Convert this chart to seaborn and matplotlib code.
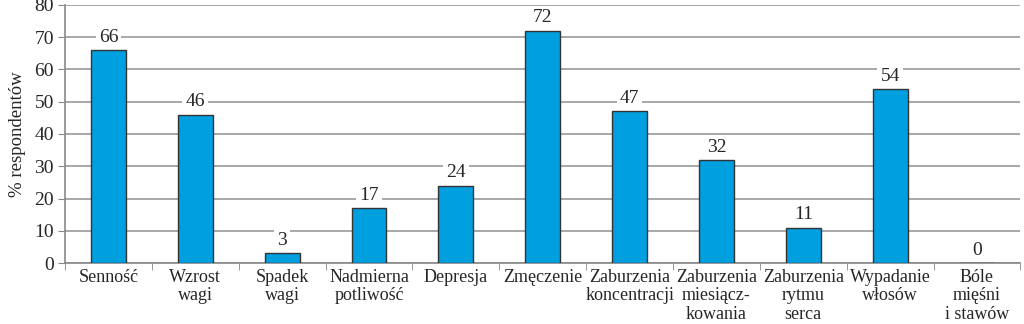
import matplotlib
matplotlib.use("Agg")
import matplotlib.pyplot as plt
import seaborn as sns
import pandas as pd
import numpy as np

categories = ["Senność", "Wzrost\nwagi", "Spadek\nwagi", "Nadmierna\npotliwość", "Depresja",
              "Zmęczenie", "Zaburzenia\nkoncentracji", "Zaburzenia\nmiesiącz-\nkowania",
              "Zaburzenia\nrytmu\nserca", "Wypadanie\nwłosów", "Bóle\nmięśni\ni stawów"]
values = [66, 46, 3, 17, 24, 72, 47, 32, 11, 54, 0]
yticks = [0, 10, 20, 30, 40, 50, 60, 70, 80]

sns.set_style("white")
plt.rcParams['font.family'] = ['Liberation Serif', 'DejaVu Serif']

df = pd.DataFrame({"cat": categories, "val": values})
fig = plt.figure(figsize=(10.24, 3.24), dpi=100)
ax = fig.add_axes([0.0635, 0.188, 0.933, 0.797])
sns.barplot(data=df, x="cat", y="val", color="#009fe0", width=0.4,
            edgecolor="#333333", linewidth=1.0, saturation=1, ax=ax, zorder=3)
ax.set_ylim(0, 80)
ax.set_xlim(-0.5, len(categories) - 0.5)
ax.set_yticks(yticks)
ax.set_yticklabels([str(t) for t in yticks], fontsize=14)
ax.yaxis.grid(True, color="#999999", linewidth=1.2, zorder=0)
ax.set_axisbelow(True)
ax.set_xlabel("")
ax.set_ylabel("% respondentów", fontsize=13.5, labelpad=6)
ax.set_xticks(range(len(categories)))
ax.set_xticklabels(categories, fontsize=13, linespacing=1.12)
ax.tick_params(axis='x', length=0, pad=4)
ax.tick_params(axis='y', length=5, color="#888888", pad=3, direction='out', left=True)
# separator ticks between categories
ax.set_xticks(np.arange(-0.5, len(categories), 1.0), minor=True)
ax.tick_params(axis='x', which='minor', length=5, color="#888888", direction='out', bottom=True)
for s in ["top", "right"]:
    ax.spines[s].set_visible(False)
for s in ["left", "bottom"]:
    ax.spines[s].set_color("#888888")
    ax.spines[s].set_linewidth(1.2)

for i, v in enumerate(values):
    ax.text(i, v + 1.3, str(v), ha="center", va="bottom", fontsize=14, zorder=4,
            bbox=dict(facecolor="white", edgecolor="none", pad=2.2))

fig.savefig("out.png", dpi=100)
